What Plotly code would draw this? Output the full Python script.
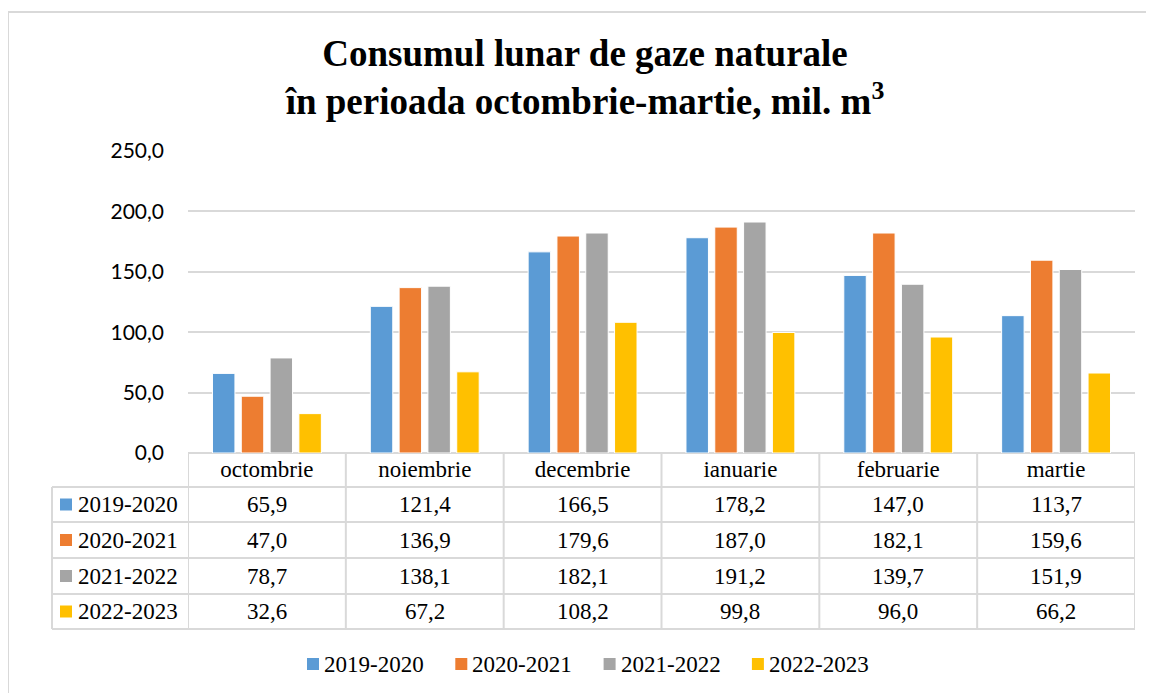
import plotly.graph_objects as go

# ---- data ----
months = ["octombrie", "noiembrie", "decembrie", "ianuarie", "februarie", "martie"]
season_names = ["2019-2020", "2020-2021", "2021-2022", "2022-2023"]
v_2019_2020 = [65.9, 121.4, 166.5, 178.2, 147.0, 113.7]
v_2020_2021 = [47.0, 136.9, 179.6, 187.0, 182.1, 159.6]
v_2021_2022 = [78.7, 138.1, 182.1, 191.2, 139.7, 151.9]
v_2022_2023 = [32.6, 67.2, 108.2, 99.8, 96.0, 66.2]
y_ticks = [0, 50, 100, 150, 200, 250]

series = [v_2019_2020, v_2020_2021, v_2021_2022, v_2022_2023]
colors = ["#5B9BD5", "#ED7D31", "#A5A5A5", "#FFC000"]

# ---- layout geometry (screen pixels; page body has an 8px margin) ----
OFF = 8
SW, SH = 1154, 693
FW, FH = SW - OFF, SH - OFF
L, R, T, B = 188, 1135, 151, 453
PW, PH = R - L, B - T
GRID = "#d9d9d9"
SERIF = "Liberation Serif, Times New Roman, serif"
SANS = "Lato, Carlito, Liberation Sans, sans-serif"


def px_x(px):
    return (px - L) / PW


def px_y(py):
    return (B - py) / PH


def fmt(v):
    return f"{v:.1f}".replace(".", ",")


fig = go.Figure()
for name, vals, col in zip(season_names, series, colors):
    fig.add_trace(go.Bar(
        x=months, y=vals, name=name,
        marker=dict(color=col, line=dict(color="white", width=1)),
        showlegend=False,
        hovertemplate="%{x}<br>" + name + ": %{y:.1f}<extra></extra>",
    ))

shapes = []
annotations = []

# outer chart border
shapes.append(dict(type="rect", xref="paper", yref="paper",
                   x0=px_x(8), x1=px_x(1170), y0=px_y(710), y1=px_y(12),
                   line=dict(color=GRID, width=2), layer="below"))

# data table lines
row_edges = [453, 487, 522, 558, 594, 629]
for ry in row_edges[1:]:
    shapes.append(dict(type="line", xref="paper", yref="paper",
                       x0=px_x(52), x1=px_x(R), y0=px_y(ry), y1=px_y(ry),
                       line=dict(color=GRID, width=2)))
shapes.append(dict(type="line", xref="paper", yref="paper",
                   x0=px_x(52), x1=px_x(52), y0=px_y(row_edges[1]), y1=px_y(row_edges[-1]),
                   line=dict(color=GRID, width=2)))
for k in range(len(months) + 1):
    shapes.append(dict(type="line", xref="x", yref="paper",
                       x0=k - 0.5, x1=k - 0.5, y0=px_y(row_edges[0]), y1=px_y(row_edges[-1]),
                       line=dict(color=GRID, width=2)))

# table rows: legend key, label, values
for r, (name, vals, col) in enumerate(zip(season_names, series, colors)):
    cy = (row_edges[r + 1] + row_edges[r + 2]) / 2
    shapes.append(dict(type="rect", xref="paper", yref="paper",
                       x0=px_x(60), x1=px_x(72), y0=px_y(cy + 6), y1=px_y(cy - 6),
                       fillcolor=col, line=dict(width=0)))
    annotations.append(dict(text=name, xref="paper", yref="paper",
                            x=px_x(76), y=px_y(cy), xanchor="left", yanchor="middle",
                            showarrow=False, font=dict(family=SERIF, size=23, color="black")))
    for m, v in zip(months, vals):
        annotations.append(dict(text=fmt(v), xref="x", yref="paper",
                                x=m, y=px_y(cy), xanchor="center", yanchor="middle",
                                showarrow=False, font=dict(family=SERIF, size=23, color="black")))

# bottom legend
leg_x0, leg_pitch, leg_cy = 307, 148.3, 664
for i, (name, col) in enumerate(zip(season_names, colors)):
    sx = leg_x0 + i * leg_pitch
    shapes.append(dict(type="rect", xref="paper", yref="paper",
                       x0=px_x(sx), x1=px_x(sx + 12), y0=px_y(leg_cy + 6), y1=px_y(leg_cy - 6),
                       fillcolor=col, line=dict(width=0)))
    annotations.append(dict(text=name, xref="paper", yref="paper",
                            x=px_x(sx + 15), y=px_y(leg_cy), xanchor="left", yanchor="middle",
                            showarrow=False, font=dict(family=SERIF, size=23, color="black")))

fig.update_layout(
    width=FW, height=FH,
    margin=dict(l=L - OFF, r=SW - R, t=T - OFF, b=SH - B, pad=0),
    paper_bgcolor="white", plot_bgcolor="white",
    separators=", ",
    barmode="group", bargap=0.27, bargroupgap=0.22,
    title=dict(text="<b>Consumul lunar de gaze naturale<br>în perioada octombrie-martie, mil. m<sup>3</sup></b>",
               x=(585 - OFF) / FW, xanchor="center", xref="container",
               y=1 - 58 / FH, yanchor="top", yref="container",
               font=dict(family=SERIF, size=37, color="black")),
    xaxis=dict(type="category", range=[-0.5, len(months) - 0.5],
               showgrid=False, showline=False, zeroline=False,
               ticks="", tickfont=dict(family=SERIF, size=23, color="black"),
               ticklabelstandoff=0),
    yaxis=dict(range=[0, 250], tickvals=y_ticks, tickformat=".1f",
               showgrid=True, gridcolor=GRID, gridwidth=2,
               zeroline=True, zerolinecolor=GRID, zerolinewidth=2,
               showline=False, ticks="",
               tickfont=dict(family=SANS, size=21, color="black"),
               ticklabelstandoff=23),
    shapes=shapes, annotations=annotations,
)

fig.write_html("out.html")
